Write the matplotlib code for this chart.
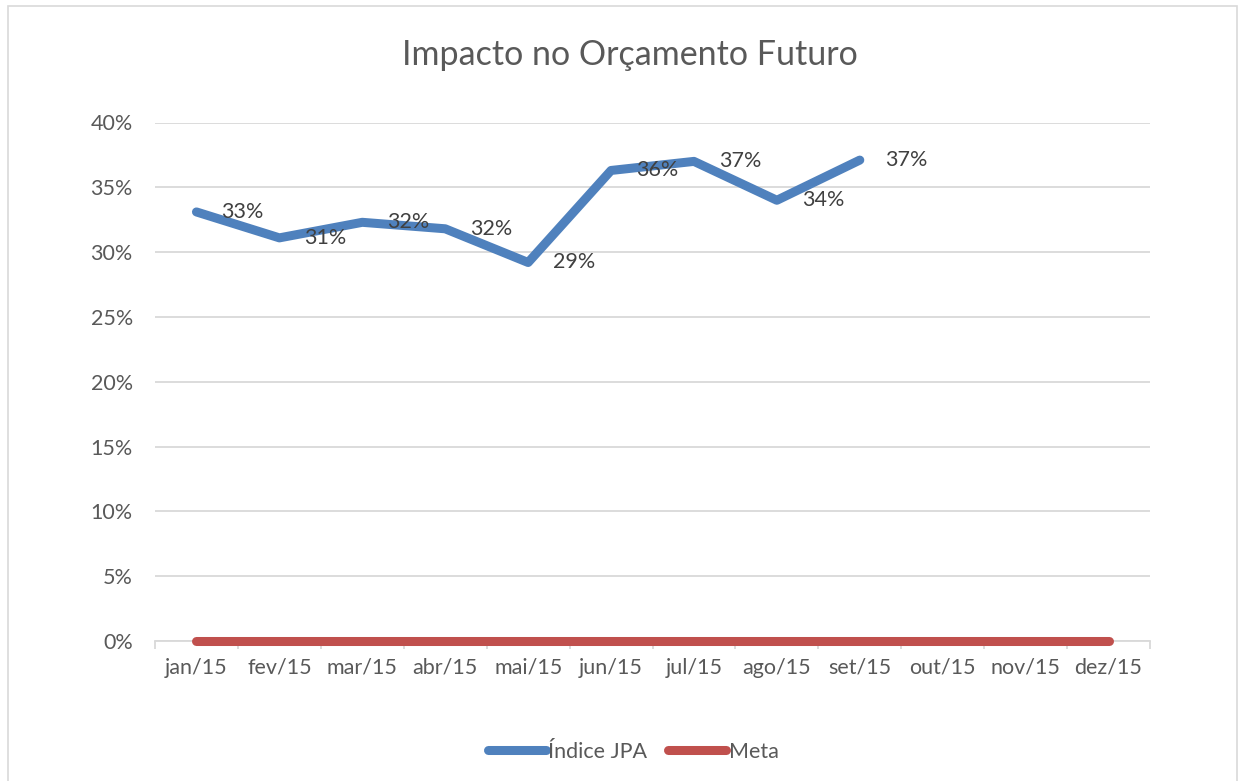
import matplotlib
matplotlib.use("Agg")
import matplotlib.pyplot as plt
from matplotlib.patches import Rectangle
from matplotlib.ticker import FuncFormatter, MultipleLocator

months = ["jan/15", "fev/15", "mar/15", "abr/15", "mai/15", "jun/15",
          "jul/15", "ago/15", "set/15", "out/15", "nov/15", "dez/15"]
indice_jpa = [33.1, 31.1, 32.3, 31.8, 29.2, 36.3, 37.0, 34.0, 37.1]
meta = [0, 0, 0, 0, 0, 0, 0, 0, 0, 0, 0, 0]
labels_jpa = ["33%", "31%", "32%", "32%", "29%", "36%", "37%", "34%", "37%"]

plt.rcParams['font.family'] = ['Lato', 'DejaVu Sans']

W, H, DPI = 1244, 781, 100
fig = plt.figure(figsize=(W / DPI, H / DPI), dpi=DPI)
fig.patch.set_facecolor("white")
ax = fig.add_axes([155 / W, 1 - 641 / H, (1150 - 155) / W, (641 - 122.5) / H])

# chart border
fig.patches.append(Rectangle((8 / W, -0.01), (1237 - 8) / W, (1 - 6 / H) + 0.01,
                             transform=fig.transFigure, fill=False,
                             edgecolor="#D9D9D9", linewidth=1.2))

blue = "#4F81BD"
red = "#C0504D"
x_jpa = list(range(len(indice_jpa)))
x_meta = list(range(len(meta)))

ax.plot(x_meta, meta, color=red, linewidth=6.5, solid_capstyle="round",
        solid_joinstyle="round", label="Meta", zorder=3, clip_on=False)
ax.plot(x_jpa, indice_jpa, color=blue, linewidth=6.5, solid_capstyle="round",
        solid_joinstyle="round", label="Índice JPA", zorder=4)

for xi, yi, lab in zip(x_jpa, indice_jpa, labels_jpa):
    ax.annotate(lab, (xi, yi), xytext=(18, 0), textcoords="offset points",
                ha="left", va="center", fontsize=15.5, color="#404040", zorder=5)

ax.set_xlim(-0.5, len(months) - 0.5)
ax.set_ylim(0, 40)
ax.yaxis.set_major_locator(MultipleLocator(5))
ax.yaxis.set_major_formatter(FuncFormatter(lambda v, p: f"{v:.0f}%"))
ax.set_xticks(range(len(months)))
ax.set_xticklabels(months)
ax.set_xticks([i - 0.5 for i in range(len(months) + 1)], minor=True)

ax.grid(axis="y", color="#D9D9D9", linewidth=1.3, zorder=0)
ax.set_axisbelow(True)
for s in ["top", "right", "left"]:
    ax.spines[s].set_visible(False)
ax.spines["bottom"].set_color("#D9D9D9")
ax.spines["bottom"].set_linewidth(1.3)

ax.tick_params(axis="y", length=0, pad=16, labelsize=15.5, labelcolor="#595959")
ax.tick_params(axis="x", which="major", length=0, pad=12, labelsize=15.5,
               labelcolor="#595959")
ax.tick_params(axis="x", which="minor", length=6, color="#D9D9D9", width=1.3)

fig.text(630 / W, 1 - 55 / H, "Impacto no Orçamento Futuro", ha="center",
         va="center", fontsize=24.5, color="#595959")

leg = fig.legend(handles=ax.get_lines()[::-1], loc="center",
                 bbox_to_anchor=(633 / W, 1 - 752 / H), ncol=2, frameon=False,
                 fontsize=15.5, handlelength=2.7, handletextpad=0.1,
                 columnspacing=1.0, labelcolor="#595959")
for h in leg.get_lines():
    h.set_solid_capstyle("round")

fig.savefig("out.png", dpi=DPI)
